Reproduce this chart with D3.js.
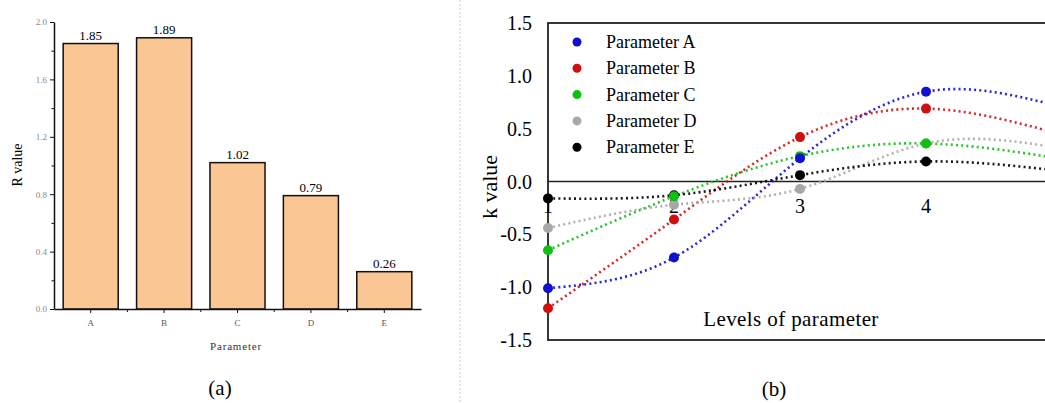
<!DOCTYPE html>
<html>
<head>
<meta charset="utf-8">
<script src="https://cdn.jsdelivr.net/npm/d3@7"></script>
<style>
  body { margin: 0; background: #fff; }
  svg { display: block; font-family: "Liberation Serif", "Times New Roman", serif; }
</style>
</head>
<body>
<svg id="svg" width="1045" height="403"></svg>
<script>
// (a) bar chart data
const barCats = ['A', 'B', 'C', 'D', 'E'];
const rValues = [1.85, 1.89, 1.02, 0.79, 0.26];
const rTicks = [0.0, 0.4, 0.8, 1.2, 1.6, 2.0];

// (b) k value per level
const levels = [1, 2, 3, 4, 5];
const seriesNames = ['Parameter A', 'Parameter B', 'Parameter C', 'Parameter D', 'Parameter E'];
const seriesColors = ['#1010d0', '#d01010', '#10c010', '#a8a8a8', '#000000'];
const kA = [-1.01, -0.72, 0.22, 0.85, 0.73];
const kB = [-1.20, -0.36, 0.42, 0.69, 0.47];
const kC = [-0.65, -0.14, 0.24, 0.36, 0.23];
const kD = [-0.44, -0.22, -0.07, 0.36, 0.33];
const kE = [-0.16, -0.13, 0.06, 0.19, 0.11];
const kTicks = [1.5, 1.0, 0.5, 0.0, -0.5, -1.0, -1.5];

const serif = 'Liberation Serif';
const svg = d3.select('#svg');

// ---------- (a) ----------
const ga = svg.append('g');
const xa = d3.scaleBand().domain(barCats).range([54, 421]).paddingInner(0.25).paddingOuter(0.125);
const ya = d3.scaleLinear().domain([0, 2]).range([309, 22]);

ga.selectAll('rect.bar')
  .data(rValues)
  .join('rect')
  .attr('class', 'bar')
  .attr('x', (d, i) => xa(barCats[i]))
  .attr('y', d => ya(d))
  .attr('width', xa.bandwidth())
  .attr('height', d => ya(0) - ya(d))
  .attr('fill', '#f9c694')
  .attr('stroke', '#111')
  .attr('stroke-width', 1.5);

ga.selectAll('text.val')
  .data(rValues)
  .join('text')
  .attr('class', 'val')
  .attr('x', (d, i) => xa(barCats[i]) + xa.bandwidth() / 2)
  .attr('y', d => ya(d) - 4)
  .attr('text-anchor', 'middle')
  .attr('font-size', 13)
  .text(d => d.toFixed(2));

// y axis
const yAxisA = ga.append('g').attr('transform', 'translate(54,0)')
  .call(d3.axisLeft(ya).tickValues(rTicks).tickFormat(d3.format('.1f')).tickSize(4).tickSizeOuter(0));
yAxisA.select('.domain').attr('stroke', '#111').attr('stroke-width', 1.5);
yAxisA.selectAll('.tick line').attr('stroke', '#111');
yAxisA.selectAll('text').attr('font-size', 9).attr('fill', '#888').attr('font-family', serif);
ga.append('g').attr('transform', 'translate(54,0)')
  .call(d3.axisLeft(ya).tickValues(d3.range(0.2, 2, 0.4)).tickFormat('').tickSize(2.5))
  .call(g => g.select('.domain').remove())
  .selectAll('.tick line').attr('stroke', '#111');

// x axis
const xAxisA = ga.append('g').attr('transform', 'translate(0,309)')
  .call(d3.axisBottom(xa).tickSize(4).tickSizeOuter(0));
xAxisA.select('.domain').attr('stroke', '#111').attr('stroke-width', 1.5);
xAxisA.selectAll('.tick line').attr('stroke', '#111');
xAxisA.selectAll('text').attr('font-size', 9).attr('fill', '#555').attr('dy', '1.1em').attr('font-family', serif);
ga.append('g').selectAll('line')
  .data(barCats.slice(1))
  .join('line')
  .attr('x1', d => xa(d) - xa.step() * xa.paddingInner() / 2)
  .attr('x2', d => xa(d) - xa.step() * xa.paddingInner() / 2)
  .attr('y1', 309).attr('y2', 312)
  .attr('stroke', '#111');

ga.append('text')
  .attr('transform', 'translate(22,165) rotate(-90)')
  .attr('text-anchor', 'middle')
  .attr('font-size', 14)
  .text('R value');
ga.append('text')
  .attr('x', 236).attr('y', 350)
  .attr('text-anchor', 'middle')
  .attr('font-size', 11)
  .attr('letter-spacing', 0.8)
  .attr('fill', '#333')
  .text('Parameter');
ga.append('text')
  .attr('x', 220).attr('y', 395)
  .attr('text-anchor', 'middle')
  .attr('font-size', 21)
  .text('(a)');

// divider
svg.append('line')
  .attr('x1', 460).attr('x2', 460).attr('y1', 0).attr('y2', 403)
  .attr('stroke', '#c8c8c8').attr('stroke-dasharray', '2,2');

// ---------- (b) ----------
const gb = svg.append('g');
const xb = d3.scaleLinear().domain([1, 5]).range([548, 1052]);
const yb = d3.scaleLinear().domain([-1.5, 1.5]).range([340, 23]);

gb.append('rect')
  .attr('x', xb(1)).attr('y', yb(1.5))
  .attr('width', 530).attr('height', yb(-1.5) - yb(1.5))
  .attr('fill', 'none').attr('stroke', '#222').attr('stroke-width', 1.8);
gb.append('line')
  .attr('x1', xb(1)).attr('x2', 1060)
  .attr('y1', yb(0)).attr('y2', yb(0))
  .attr('stroke', '#222').attr('stroke-width', 1.5);

// y tick labels
gb.selectAll('text.ytick')
  .data(kTicks)
  .join('text')
  .attr('class', 'ytick')
  .attr('x', 532).attr('y', d => yb(d) + 7)
  .attr('text-anchor', 'end')
  .attr('font-size', 20)
  .text(d => d.toFixed(1));

// x tick labels (level 5 sits on the cropped right edge, as in the source)
gb.selectAll('text.xtick')
  .data(levels)
  .join('text')
  .attr('class', 'xtick')
  .attr('x', d => xb(d)).attr('y', 213)
  .attr('text-anchor', 'middle')
  .attr('font-size', 20)
  .text(d => d);

const allSeries = [kA, kB, kC, kD, kE];
const line = d3.line()
  .x((d, i) => xb(levels[i]))
  .y(d => yb(d))
  .curve(d3.curveNatural);

allSeries.forEach((vals, s) => {
  gb.append('path')
    .datum(vals)
    .attr('d', line)
    .attr('fill', 'none')
    .attr('stroke', seriesColors[s])
    .attr('stroke-width', 2.6)
    .attr('stroke-dasharray', '2,3.2')
    .attr('opacity', 0.9);
});
[3, 4, 2, 1, 0].forEach(s => {
  gb.append('g').selectAll('circle')
    .data(allSeries[s])
    .join('circle')
    .attr('cx', (d, i) => xb(levels[i]))
    .attr('cy', d => yb(d))
    .attr('r', 5)
    .attr('fill', seriesColors[s]);
});

// legend
const leg = gb.append('g');
seriesNames.forEach((name, i) => {
  const y = 42 + i * 26.3;
  leg.append('circle').attr('cx', 577).attr('cy', y).attr('r', 4.5).attr('fill', seriesColors[i]);
  leg.append('text').attr('x', 606).attr('y', y + 6).attr('font-size', 18).text(name);
});

gb.append('text')
  .attr('transform', 'translate(497,187) rotate(-90)')
  .attr('text-anchor', 'middle')
  .attr('font-size', 22)
  .text('k value');
gb.append('text')
  .attr('x', 791).attr('y', 326)
  .attr('text-anchor', 'middle')
  .attr('font-size', 21)
  .attr('letter-spacing', 0.4)
  .text('Levels of parameter');
gb.append('text')
  .attr('x', 774).attr('y', 396)
  .attr('text-anchor', 'middle')
  .attr('font-size', 21)
  .text('(b)');
</script>
</body>
</html>
